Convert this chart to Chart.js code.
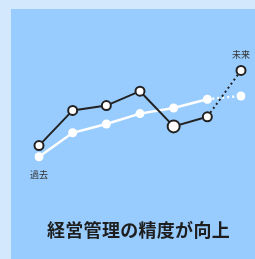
<!DOCTYPE html>
<html>
<head>
<meta charset="utf-8">
<script src="https://cdn.jsdelivr.net/npm/chart.js@4"></script>
<style>
  html, body { margin: 0; padding: 0; }
  body { width: 255px; height: 259px; background: #d3e8fc; position: relative; overflow: hidden; }
  #panel { position: absolute; left: 11px; top: 9px; width: 244px; height: 250px; background: #99ccfe; }
  #wrap { position: absolute; left: 0; top: 0; width: 255px; height: 259px; }
  #title { position: absolute; left: 47px; top: 216px; font: bold 18px "Noto Sans CJK JP", sans-serif; color: #1e1e1e; white-space: nowrap; letter-spacing: 0.3px; }
</style>
</head>
<body>
<div id="panel"></div>
<div id="wrap"><canvas id="accuracyChart" width="255" height="259"></canvas></div>
<div id="title">経営管理の精度が向上</div>
<script>
// 時期と精度(任意単位)
var periods = ["1", "2", "3", "4", "5", "6", "7"];
var actual = [34, 56, 59, 68, 46, 52, 81];
var trend = [27, 42, 47.5, 54, 57.5, 63, 65];
var startLabel = "過去";
var endLabel = "未来";

var lastDotted = function (ctx, dash) {
    return ctx.p1DataIndex === periods.length - 1 ? dash : undefined;
};

// 過去・未来のラベル
var endLabels = {
    id: 'endLabels',
    afterDatasetsDraw: function (chart) {
        var pts = chart.getDatasetMeta(0).data;
        var c = chart.ctx;
        c.save();
        c.font = '9px "Noto Sans CJK JP", sans-serif';
        c.fillStyle = '#333';
        c.textAlign = 'center';
        c.textBaseline = 'middle';
        c.fillText(startLabel, pts[0].x, pts[0].y + 29);
        c.fillText(endLabel, pts[pts.length - 1].x, pts[pts.length - 1].y - 16);
        c.restore();
    }
};

var ctx = document.getElementById('accuracyChart').getContext('2d');
var accuracyChart = new Chart(ctx, {
    type: 'line',
    data: {
        labels: periods,
        datasets: [{
            data: actual,
            borderColor: '#222',
            borderWidth: 2,
            pointBackgroundColor: '#fff',
            pointBorderColor: '#222',
            pointBorderWidth: 2,
            pointRadius: [4.5, 4.5, 4.5, 4.5, 6, 4.5, 4.5],
            segment: { borderDash: function (c) { return lastDotted(c, [2, 3]); } }
        }, {
            data: trend,
            borderColor: '#fff',
            borderWidth: 2.5,
            pointBackgroundColor: '#fff',
            pointBorderColor: '#fff',
            pointBorderWidth: 0,
            pointRadius: 4.5,
            segment: { borderDash: function (c) { return lastDotted(c, [2, 3]); } }
        }]
    },
    options: {
        responsive: false,
        animation: false,
        devicePixelRatio: 1,
        layout: { padding: { left: 39, right: 14, top: 40, bottom: 59 } },
        scales: {
            x: { display: false, offset: false },
            y: { display: false, min: 0, max: 100 }
        },
        plugins: { legend: { display: false }, tooltip: { enabled: false } }
    },
    plugins: [endLabels]
});
</script>
</body>
</html>
